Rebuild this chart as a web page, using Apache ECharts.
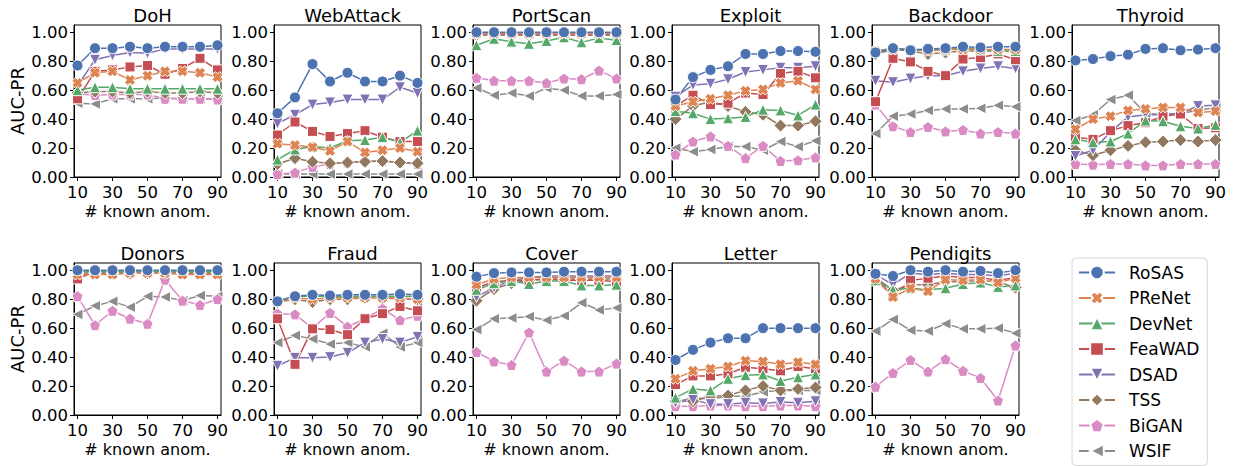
<!DOCTYPE html>
<html>
<head>
<meta charset="utf-8">
<script src="https://cdn.jsdelivr.net/npm/echarts@6/dist/echarts.min.js"></script>
<style>
  html, body { margin: 0; padding: 0; background: #fff; }
  #chart { width: 1241px; height: 466px; }
</style>
</head>
<body>
<div id="chart"></div>
<script>
var knownAnom = [10, 20, 30, 40, 50, 60, 70, 80, 90];
var xTicks = [10, 30, 50, 70, 90];
var yTicks = [0, 0.2, 0.4, 0.6, 0.8, 1.0];
var methods = ['RoSAS', 'PReNet', 'DevNet', 'FeaWAD', 'DSAD', 'TSS', 'BiGAN', 'WSIF'];
var datasets = ['DoH', 'WebAttack', 'PortScan', 'Exploit', 'Backdoor', 'Thyroid',
                'Donors', 'Fraud', 'Cover', 'Letter', 'Pendigits'];

// rows follow the methods order
var DoH = [
  [0.77, 0.89, 0.89, 0.90, 0.89, 0.90, 0.90, 0.90, 0.91],
  [0.65, 0.72, 0.73, 0.67, 0.70, 0.73, 0.73, 0.72, 0.69],
  [0.60, 0.62, 0.62, 0.61, 0.61, 0.61, 0.61, 0.61, 0.61],
  [0.54, 0.73, 0.74, 0.76, 0.77, 0.71, 0.75, 0.82, 0.74],
  [0.63, 0.81, 0.84, 0.86, 0.855, 0.885, 0.885, 0.885, 0.885],
  [0.58, 0.59, 0.59, 0.58, 0.59, 0.58, 0.58, 0.59, 0.58],
  [0.575, 0.565, 0.57, 0.57, 0.57, 0.54, 0.54, 0.54, 0.535],
  [0.51, 0.505, 0.54, 0.54, 0.54, 0.545, 0.54, 0.54, 0.535]
];
var WebAttack = [
  [0.44, 0.55, 0.78, 0.66, 0.72, 0.66, 0.66, 0.70, 0.65],
  [0.23, 0.22, 0.205, 0.18, 0.245, 0.17, 0.185, 0.20, 0.175],
  [0.12, 0.19, 0.21, 0.20, 0.25, 0.255, 0.275, 0.24, 0.32],
  [0.29, 0.38, 0.315, 0.28, 0.30, 0.32, 0.275, 0.245, 0.245],
  [0.37, 0.43, 0.50, 0.515, 0.535, 0.535, 0.535, 0.62, 0.58],
  [0.09, 0.13, 0.105, 0.095, 0.10, 0.105, 0.11, 0.10, 0.095],
  [0.02, 0.03, 0.07, 0.09, 0.10, 0.11, 0.11, 0.10, 0.09],
  [0.02, 0.02, 0.02, 0.02, 0.02, 0.02, 0.02, 0.02, 0.02]
];
var PortScan = [
  [1.00, 1.00, 1.00, 1.00, 1.00, 1.00, 1.00, 1.00, 1.00],
  [0.99, 0.99, 0.99, 0.99, 0.99, 0.99, 0.99, 0.99, 0.99],
  [0.91, 0.955, 0.935, 0.92, 0.94, 0.965, 0.93, 0.96, 0.945],
  [0.99, 0.99, 0.99, 0.99, 0.99, 0.99, 0.99, 0.99, 0.99],
  [0.985, 0.985, 0.985, 0.985, 0.985, 0.985, 0.985, 0.985, 0.985],
  [0.98, 0.98, 0.98, 0.98, 0.98, 0.98, 0.98, 0.98, 0.98],
  [0.685, 0.665, 0.665, 0.665, 0.65, 0.68, 0.675, 0.735, 0.68],
  [0.615, 0.565, 0.58, 0.56, 0.615, 0.60, 0.56, 0.56, 0.57]
];
var Exploit = [
  [0.535, 0.69, 0.74, 0.765, 0.85, 0.85, 0.87, 0.87, 0.865],
  [0.49, 0.52, 0.54, 0.565, 0.595, 0.605, 0.65, 0.665, 0.605],
  [0.455, 0.44, 0.40, 0.405, 0.415, 0.465, 0.46, 0.425, 0.50],
  [0.49, 0.565, 0.50, 0.51, 0.58, 0.57, 0.715, 0.73, 0.685],
  [0.555, 0.635, 0.645, 0.675, 0.725, 0.74, 0.755, 0.755, 0.765],
  [0.40, 0.49, 0.52, 0.49, 0.45, 0.43, 0.355, 0.355, 0.385],
  [0.155, 0.245, 0.28, 0.215, 0.13, 0.215, 0.11, 0.115, 0.135],
  [0.20, 0.175, 0.19, 0.21, 0.21, 0.185, 0.245, 0.21, 0.25]
];
var Backdoor = [
  [0.86, 0.89, 0.875, 0.885, 0.89, 0.90, 0.895, 0.90, 0.90],
  [0.87, 0.88, 0.88, 0.87, 0.88, 0.88, 0.88, 0.88, 0.88],
  [0.87, 0.89, 0.88, 0.88, 0.88, 0.89, 0.88, 0.87, 0.87],
  [0.52, 0.82, 0.795, 0.73, 0.70, 0.815, 0.825, 0.85, 0.81],
  [0.665, 0.655, 0.68, 0.70, 0.70, 0.73, 0.75, 0.765, 0.75],
  [0.85, 0.88, 0.87, 0.85, 0.86, 0.87, 0.87, 0.87, 0.87],
  [0.50, 0.35, 0.31, 0.345, 0.315, 0.325, 0.30, 0.31, 0.30],
  [0.30, 0.42, 0.435, 0.46, 0.47, 0.47, 0.475, 0.495, 0.485]
];
var Thyroid = [
  [0.805, 0.815, 0.835, 0.845, 0.885, 0.89, 0.875, 0.88, 0.89],
  [0.33, 0.40, 0.42, 0.46, 0.47, 0.48, 0.48, 0.445, 0.455],
  [0.26, 0.24, 0.245, 0.30, 0.39, 0.385, 0.35, 0.335, 0.36],
  [0.275, 0.26, 0.32, 0.355, 0.375, 0.42, 0.435, 0.335, 0.34],
  [0.145, 0.185, 0.31, 0.415, 0.43, 0.43, 0.44, 0.49, 0.495],
  [0.185, 0.15, 0.185, 0.215, 0.24, 0.245, 0.255, 0.245, 0.255],
  [0.09, 0.085, 0.09, 0.09, 0.08, 0.08, 0.09, 0.09, 0.09],
  [0.39, 0.43, 0.535, 0.565, 0.44, 0.43, 0.44, 0.46, 0.48]
];
var Donors = [
  [1.00, 1.00, 1.00, 1.00, 1.00, 1.00, 1.00, 1.00, 1.00],
  [0.97, 0.97, 0.97, 0.98, 0.98, 0.98, 0.97, 0.97, 0.97],
  [0.99, 0.99, 0.99, 0.99, 0.99, 0.99, 0.99, 0.99, 0.99],
  [0.94, 0.99, 0.99, 0.99, 0.99, 0.99, 0.99, 0.99, 0.99],
  [0.99, 0.99, 0.99, 0.99, 0.99, 0.99, 0.99, 0.99, 0.99],
  [0.98, 0.98, 0.98, 0.98, 0.98, 0.98, 0.98, 0.98, 0.98],
  [0.82, 0.62, 0.72, 0.665, 0.63, 0.935, 0.79, 0.76, 0.80],
  [0.695, 0.755, 0.785, 0.745, 0.82, 0.815, 0.79, 0.825, 0.82]
];
var Fraud = [
  [0.785, 0.82, 0.83, 0.825, 0.83, 0.83, 0.83, 0.835, 0.83],
  [0.78, 0.81, 0.80, 0.81, 0.81, 0.81, 0.81, 0.81, 0.80],
  [0.79, 0.82, 0.82, 0.82, 0.82, 0.82, 0.82, 0.82, 0.82],
  [0.665, 0.35, 0.595, 0.59, 0.555, 0.665, 0.70, 0.75, 0.72],
  [0.34, 0.395, 0.395, 0.40, 0.43, 0.50, 0.525, 0.50, 0.54],
  [0.78, 0.80, 0.78, 0.80, 0.80, 0.81, 0.81, 0.80, 0.80],
  [0.70, 0.695, 0.60, 0.705, 0.61, 0.665, 0.735, 0.655, 0.685],
  [0.50, 0.55, 0.525, 0.49, 0.50, 0.47, 0.565, 0.47, 0.50]
];
var Cover = [
  [0.955, 0.98, 0.985, 0.985, 0.985, 0.99, 0.99, 0.99, 0.99],
  [0.90, 0.94, 0.95, 0.95, 0.95, 0.95, 0.95, 0.95, 0.95],
  [0.865, 0.91, 0.925, 0.905, 0.925, 0.925, 0.895, 0.895, 0.90],
  [0.88, 0.92, 0.93, 0.93, 0.94, 0.93, 0.93, 0.93, 0.92],
  [0.815, 0.88, 0.93, 0.95, 0.96, 0.96, 0.96, 0.96, 0.96],
  [0.79, 0.87, 0.91, 0.93, 0.94, 0.94, 0.94, 0.94, 0.94],
  [0.435, 0.37, 0.345, 0.57, 0.30, 0.375, 0.30, 0.30, 0.355],
  [0.59, 0.665, 0.67, 0.68, 0.655, 0.685, 0.775, 0.725, 0.74]
];
var Letter = [
  [0.38, 0.45, 0.50, 0.53, 0.53, 0.60, 0.60, 0.60, 0.60],
  [0.25, 0.305, 0.32, 0.335, 0.375, 0.37, 0.35, 0.365, 0.35],
  [0.12, 0.18, 0.17, 0.25, 0.275, 0.28, 0.235, 0.26, 0.28],
  [0.21, 0.27, 0.27, 0.285, 0.33, 0.32, 0.305, 0.335, 0.32],
  [0.085, 0.105, 0.075, 0.075, 0.085, 0.08, 0.09, 0.085, 0.095],
  [0.095, 0.095, 0.13, 0.135, 0.17, 0.20, 0.17, 0.18, 0.19],
  [0.06, 0.06, 0.065, 0.065, 0.06, 0.06, 0.065, 0.065, 0.06],
  [0.09, 0.12, 0.11, 0.13, 0.13, 0.16, 0.17, 0.17, 0.17]
];
var Pendigits = [
  [0.975, 0.96, 1.00, 0.99, 1.00, 0.99, 0.995, 0.98, 1.00],
  [0.94, 0.815, 0.875, 0.855, 0.935, 0.93, 0.935, 0.915, 0.945],
  [0.93, 0.865, 0.875, 0.865, 0.875, 0.905, 0.915, 0.885, 0.895],
  [0.95, 0.82, 0.93, 0.945, 0.96, 0.95, 0.95, 0.93, 0.95],
  [0.97, 0.90, 0.98, 0.97, 0.98, 0.97, 0.97, 0.96, 0.98],
  [0.95, 0.86, 0.90, 0.90, 0.92, 0.92, 0.93, 0.92, 0.88],
  [0.195, 0.29, 0.38, 0.30, 0.385, 0.305, 0.255, 0.10, 0.48],
  [0.58, 0.66, 0.585, 0.58, 0.63, 0.595, 0.595, 0.60, 0.565]
];
var panelValues = [DoH, WebAttack, PortScan, Exploit, Backdoor, Thyroid,
                   Donors, Fraud, Cover, Letter, Pendigits];

var colors = ['#4C72B0', '#DD8452', '#55A868', '#C44E52', '#8172B3', '#937860', '#DA8BC3', '#8C8C8C'];
var symbols = [
  'circle',
  'path://M3,0 L5,2 L7,0 L10,3 L8,5 L10,7 L7,10 L5,8 L3,10 L0,7 L2,5 L0,3 Z',
  'path://M5,0 L10,10 L0,10 Z',
  'rect',
  'path://M0,0 L10,0 L5,10 Z',
  'diamond',
  'path://M5,0 L10,3.8 L8.1,10 L1.9,10 L0,3.8 Z',
  'path://M0,5 L10,0 L10,10 Z'
];
var symbolSizes = [11, 11, 11, 10, 11, 13, 11, 11];

var font = 'DejaVu Sans';
var colLeft = [74, 274, 473, 672, 872, 1072];
var rowTop = [25, 263];
var plotW = 147, plotH = 152;

var chart = echarts.init(document.getElementById('chart'), null, { renderer: 'svg' });

var grids = [], xAxes = [], yAxes = [], titles = [], series = [];
panelValues.forEach(function (vals, i) {
  var row = i < 6 ? 0 : 1;
  var col = i < 6 ? i : i - 6;
  var left = colLeft[col], top = rowTop[row];
  grids.push({ left: left, top: top, width: plotW, height: plotH,
    show: true, borderColor: '#000', borderWidth: 1, backgroundColor: '#fff' });
  titles.push({ text: datasets[i], left: left + plotW / 2, top: top - 24, textAlign: 'center',
    textStyle: { fontFamily: font, fontSize: 18, fontWeight: 'normal', color: '#000' } });
  xAxes.push({
    type: 'value', gridIndex: i, min: 8, max: 92,
    name: '# known anom.', nameLocation: 'middle', nameGap: 26,
    nameTextStyle: { fontFamily: font, fontSize: 16, color: '#000' },
    axisLine: { show: true, onZero: false, lineStyle: { color: '#000', width: 1 } },
    axisTick: { show: true, inside: false, length: 4, customValues: xTicks, lineStyle: { color: '#000' } },
    axisLabel: { customValues: xTicks, margin: 7, fontFamily: font, fontSize: 16.5, color: '#000' },
    splitLine: { show: false }
  });
  yAxes.push({
    type: 'value', gridIndex: i, min: 0, max: 1.05,
    name: col === 0 ? 'AUC-PR' : '', nameLocation: 'middle', nameGap: 48, nameRotate: 90,
    nameTextStyle: { fontFamily: font, fontSize: 18, color: '#000' },
    axisLine: { show: true, lineStyle: { color: '#000', width: 1 } },
    axisTick: { show: true, inside: false, length: 4, customValues: yTicks, lineStyle: { color: '#000' } },
    axisLabel: { customValues: yTicks, margin: 6, fontFamily: font, fontSize: 16.5, color: '#000',
      formatter: function (v) { return v.toFixed(2); } },
    splitLine: { show: false }
  });
  // draw RoSAS last so it sits on top
  for (var k = methods.length - 1; k >= 0; k--) {
    series.push({
      name: methods[k], type: 'line', xAxisIndex: i, yAxisIndex: i,
      data: knownAnom.map(function (x, j) { return [x, vals[k][j]]; }),
      symbol: symbols[k], symbolSize: symbolSizes[k], showSymbol: true,
      itemStyle: { color: colors[k], borderColor: '#fff', borderWidth: 1 },
      lineStyle: { color: colors[k], width: 1.5 },
      emphasis: { disabled: true }
    });
  }
});

chart.setOption({
  animation: false,
  backgroundColor: '#fff',
  title: titles,
  grid: grids,
  xAxis: xAxes,
  yAxis: yAxes,
  legend: {
    data: methods, orient: 'vertical', left: 1072, top: 258, height: 260,
    padding: [6, 8, 6, 6], itemGap: 8.5, itemWidth: 36, itemHeight: 17,
    borderColor: '#d6d6d6', borderWidth: 1, borderRadius: 4,
    textStyle: { fontFamily: font, fontSize: 17, color: '#000', padding: [0, 0, 0, 9] }
  },
  series: series
});
</script>
</body>
</html>
